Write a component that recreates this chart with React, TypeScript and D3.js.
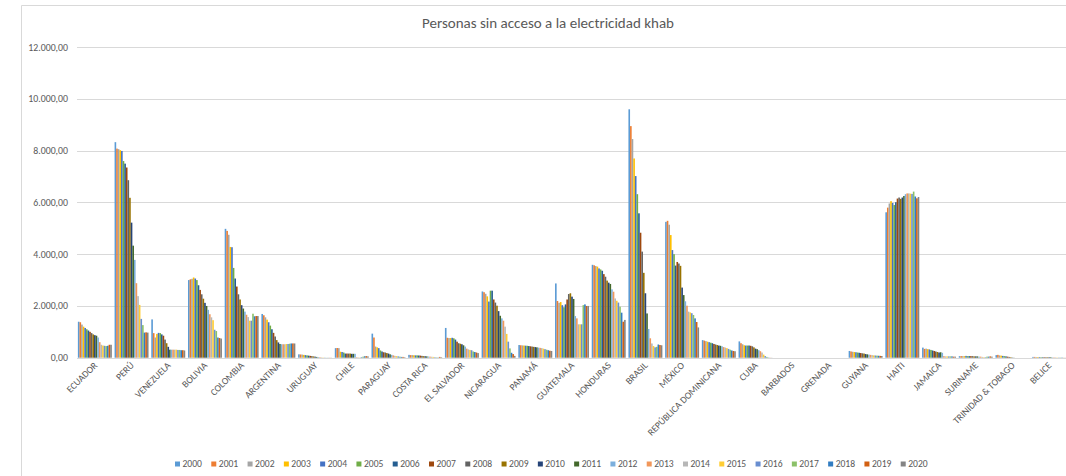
import * as d3 from "d3";

const years = d3.range(2000, 2021).map(String);

const countries = [
  "ECUADOR", "PERÚ", "VENEZUELA", "BOLIVIA", "COLOMBIA", "ARGENTINA", "URUGUAY", "CHILE",
  "PARAGUAY", "COSTA RICA", "EL SALVADOR", "NICARAGUA", "PANAMÁ", "GUATEMALA", "HONDURAS",
  "BRASIL", "MÉXICO", "REPÚBLICA DOMINICANA", "CUBA", "BARBADOS", "GRENADA", "GUYANA",
  "HAITI", "JAMAICA", "SURINAME", "TRINIDAD & TOBAGO", "BELICE",
];

// values per country, 2000 → 2020 (khab)
const ecuador = [1390, 1370, 1280, 1200, 1150, 1100, 1050, 1000, 950, 900, 870, 850, 780, 600, 500, 470, 460, 450, 460, 500, 500];
const peru = [8330, 8080, 8060, 8020, 7990, 7600, 7500, 7350, 6860, 6180, 5220, 4330, 3780, 2880, 2380, 2040, 1500, 1260, 970, 980, 970];
const venezuela = [1480, 950, 780, 920, 960, 950, 900, 850, 700, 560, 420, 310, 310, 310, 310, 310, 300, 300, 290, 290, 280];
const bolivia = [3000, 3030, 3050, 3100, 3060, 3000, 2800, 2620, 2450, 2280, 2120, 2000, 1850, 1680, 1560, 1450, 1080, 1030, 780, 760, 740];
const colombia = [4980, 4900, 4750, 4280, 4270, 3470, 3060, 2750, 2450, 2250, 2030, 1900, 1780, 1660, 1570, 1430, 1430, 1700, 1600, 1610, 1610];
const argentina = [1690, 1640, 1560, 1470, 1370, 1240, 1100, 960, 820, 680, 590, 530, 520, 520, 520, 530, 530, 540, 550, 550, 550];
const uruguay = [130, 125, 120, 110, 100, 90, 80, 70, 60, 50, 40, 30, 25, 20, 15, 10, 8, 5, 5, 5, 5];
const chile = [370, 375, 370, 230, 220, 200, 160, 160, 160, 160, 150, 150, 150, 20, 15, 10, 25, 40, 55, 60, 50];
const paraguay = [930, 780, 430, 400, 370, 280, 240, 210, 200, 180, 160, 130, 110, 90, 70, 60, 50, 40, 30, 30, 20];
const costaRica = [110, 100, 100, 95, 90, 90, 85, 80, 70, 60, 55, 50, 45, 40, 35, 30, 20, 15, 10, 30, 20];
const elSalvador = [1150, 770, 760, 760, 770, 750, 700, 620, 560, 540, 520, 480, 430, 350, 320, 300, 290, 240, 220, 200, 180];
const nicaragua = [2560, 2530, 2470, 2370, 2170, 2590, 2590, 2250, 2130, 2010, 1800, 1620, 1520, 1430, 1200, 920, 620, 360, 190, 140, 70];
const panama = [490, 480, 475, 470, 465, 460, 450, 440, 430, 420, 410, 400, 390, 380, 370, 350, 330, 310, 290, 270, 260];
const guatemala = [2870, 2190, 2120, 2150, 2030, 1950, 2060, 2250, 2460, 2490, 2360, 2270, 1610, 1520, 1290, 1290, 1290, 2030, 2060, 2000, 2000];
const honduras = [3590, 3570, 3540, 3520, 3450, 3410, 3360, 3230, 3130, 2980, 2900, 2850, 2640, 2550, 2290, 2200, 2130, 1970, 1740, 1390, 1460];
const brasil = [9600, 8950, 8450, 7700, 7020, 6320, 5580, 4830, 4100, 3280, 2490, 1710, 1110, 750, 550, 450, 400, 420, 510, 490, 480];
const mexico = [5250, 5290, 5140, 4740, 4160, 4000, 3560, 3700, 3640, 3550, 2710, 2420, 2180, 2010, 1780, 1750, 1720, 1650, 1520, 1380, 1170];
const repDominicana = [680, 660, 640, 620, 600, 580, 560, 530, 510, 490, 470, 460, 440, 410, 390, 370, 340, 310, 280, 260, 250];
const cuba = [630, 560, 520, 480, 470, 470, 470, 460, 440, 400, 350, 330, 290, 250, 200, 120, 60, 30, 10, 5, 5];
const barbados = Array(21).fill(0);
const grenada = Array(21).fill(0);
const guyana = [260, 240, 230, 220, 210, 200, 190, 180, 170, 160, 140, 130, 120, 110, 100, 90, 85, 80, 75, 70, 65];
const haiti = [5620, 5800, 5960, 6050, 5980, 5900, 6010, 6150, 6190, 6140, 6190, 6250, 6320, 6350, 6350, 6340, 6330, 6420, 6230, 6160, 6210];
const jamaica = [390, 340, 350, 330, 320, 300, 280, 260, 240, 220, 200, 210, 190, 60, 50, 50, 50, 50, 50, 40, 40];
const suriname = [60, 60, 60, 60, 70, 60, 60, 60, 60, 50, 50, 50, 40, 40, 30, 20, 20, 40, 40, 50, 40];
const trinidad = [100, 110, 90, 80, 70, 60, 50, 40, 30, 20, 10, 5, 0, 0, 0, 0, 0, 0, 0, 0, 0];
const belice = [30, 30, 25, 25, 25, 20, 20, 20, 20, 20, 20, 20, 15, 15, 15, 10, 10, 10, 10, 5, 5];

const series = [
  ecuador, peru, venezuela, bolivia, colombia, argentina, uruguay, chile, paraguay, costaRica,
  elSalvador, nicaragua, panama, guatemala, honduras, brasil, mexico, repDominicana, cuba,
  barbados, grenada, guyana, haiti, jamaica, suriname, trinidad, belice,
];

const yTicks = [0, 2000, 4000, 6000, 8000, 10000, 12000];

// Excel office palette for 21 series
const colors = [
  "#5B9BD5", "#ED7D31", "#A5A5A5", "#FFC000", "#4472C4", "#70AD47", "#255E91",
  "#9E480E", "#636363", "#997300", "#264478", "#43682B", "#7CAFDD", "#F1975A",
  "#B7B7B7", "#FFCD33", "#698ED0", "#8CC168", "#327DC2", "#D26012", "#848484",
];

const W = 1066;
const H = 476;
const font = "Carlito, Lato, 'Liberation Sans', sans-serif";
const textColor = "#595959";

const locale = d3.formatLocale({ decimal: ",", thousands: ".", grouping: [3], currency: ["", ""] });
const fmt = locale.format(",.2f");

export default function App() {
  const x0 = d3.scaleBand<string>().domain(countries).range([76.5, 1067.5]).paddingInner(0.075).paddingOuter(0.0375);
  const x1 = d3.scaleBand<string>().domain(years).range([0, x0.bandwidth()]);
  const y = d3.scaleLinear().domain([0, 12000]).range([357.7, 47.2]);

  const legendX = d3.scaleBand<string>().domain(years).range([175, 937]);

  return (
    <div style={{ position: "absolute", left: 0, top: 0 }}>
      <svg width={W} height={H} style={{ display: "block", background: "#fff" }}>
        {/* chart frame */}
        <line x1={21.5} y1={5.5} x2={W} y2={5.5} stroke="#d9d9d9" />
        <line x1={21.5} y1={5.5} x2={21.5} y2={H} stroke="#d9d9d9" />

        <text x={548} y={27.5} textAnchor="middle" fontFamily={font} fontSize={15} fill={textColor}>
          Personas sin acceso a la electricidad khab
        </text>

        {/* gridlines + y labels */}
        {yTicks.map((t) => (
          <g key={t}>
            <line x1={77} x2={W} y1={Math.round(y(t)) + 0.5} y2={Math.round(y(t)) + 0.5} stroke="#d9d9d9" strokeWidth={1} />
            <text x={68} y={y(t)} dy="0.35em" textAnchor="end" fontFamily={font} fontSize={9.8} fill={textColor}>
              {fmt(t)}
            </text>
          </g>
        ))}

        {/* bars */}
        {countries.map((c, ci) => (
          <g key={c} transform={`translate(${x0(c)},0)`}>
            {years.map((yr, yi) => {
              const v = series[ci][yi];
              return (
                <rect
                  key={yr}
                  x={x1(yr)}
                  y={y(v)}
                  width={x1.bandwidth()}
                  height={y(0) - y(v)}
                  fill={colors[yi]}
                />
              );
            })}
          </g>
        ))}

        {/* category labels */}
        {countries.map((c) => {
          const cx = (x0(c) as number) + x0.bandwidth() / 2;
          return (
            <text
              key={c}
              transform={`translate(${cx + 3},${366}) rotate(-45)`}
              textAnchor="end"
              fontFamily={font}
              fontSize={9.6}
              fill={textColor}
            >
              {c}
            </text>
          );
        })}

        {/* legend */}
        {years.map((yr, i) => {
          const lx = legendX(yr) as number;
          return (
            <g key={yr} transform={`translate(${lx},464)`}>
              <rect x={0} y={-2.5} width={5} height={5} fill={colors[i]} />
              <text x={7.5} y={0} dy="0.35em" fontFamily={font} fontSize={9.6} fill={textColor}>
                {yr}
              </text>
            </g>
          );
        })}
      </svg>
    </div>
  );
}
